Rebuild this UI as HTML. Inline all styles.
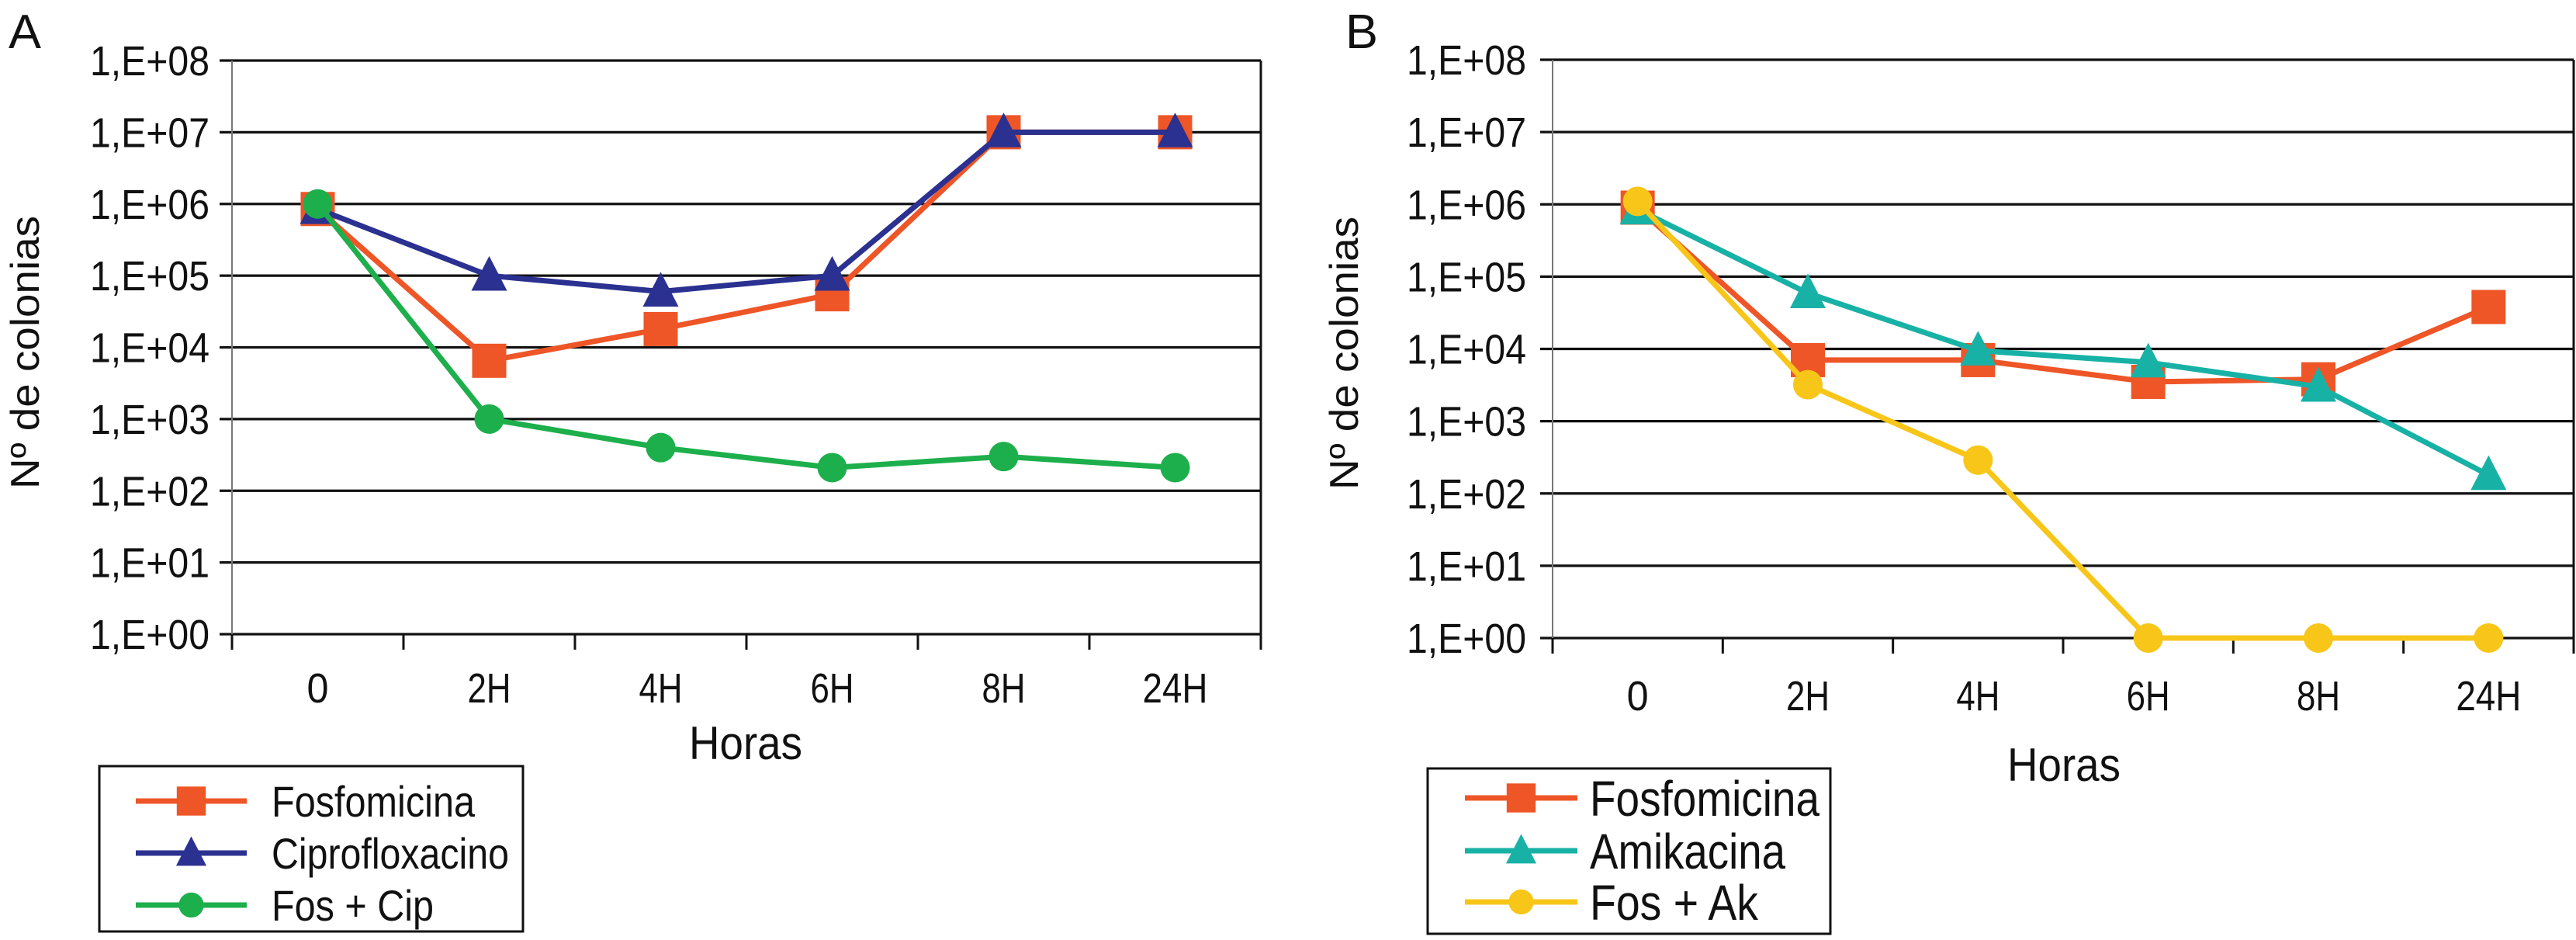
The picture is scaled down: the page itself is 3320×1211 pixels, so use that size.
<!DOCTYPE html>
<html><head><meta charset="utf-8"><style>
html,body{margin:0;padding:0;background:#fff;width:3320px;height:1211px;overflow:hidden}
svg{display:block}
text{font-family:"Liberation Sans",sans-serif;fill:#111}
</style></head><body>
<svg id="chart" width="3320" height="1211" viewBox="0 0 3320 1211" xmlns="http://www.w3.org/2000/svg">
<g id="panelA"></g>
<g id="panelB"></g>
</svg>
<script>
const categories = ["0","2H","4H","6H","8H","24H"];
const yTickLabels = ["1,E+00","1,E+01","1,E+02","1,E+03","1,E+04","1,E+05","1,E+06","1,E+07","1,E+08"];
const seriesNamesA = ["Fosfomicina","Ciprofloxacino","Fos + Cip"];
const fosA = [8.5e5, 6.5e3, 1.8e4, 5.5e4, 1e7, 1e7];
const cipA = [8.5e5, 1e5, 6e4, 1e5, 1e7, 1e7];
const fosCipA = [1e6, 1e3, 4e2, 2.1e2, 3e2, 2.1e2];
const seriesNamesB = ["Fosfomicina","Amikacina","Fos + Ak"];
const fosB = [9e5, 7e3, 7e3, 3.5e3, 3.8e3, 3.8e4];
const amiB = [8.5e5, 5.9e4, 9.5e3, 6.5e3, 3e3, 1.8e2];
const fosAkB = [1.1e6, 3.2e3, 2.9e2, 1, 1, 1];

const NS="http://www.w3.org/2000/svg";
function mk(parent, tag, attrs){const e=document.createElementNS(NS,tag);for(const k in attrs)e.setAttribute(k,attrs[k]);parent.appendChild(e);return e;}

const colors={orange:"#EE5527",navy:"#2B3190",green:"#1DAF4B",teal:"#18B1A6",yellow:"#F7C618"};

function drawPanel(g, cfg){
  const {left,right,top,bottom}=cfg;
  const yScale=v=>bottom-(Math.log10(v))*(bottom-top)/8;
  const band=(right-left)/categories.length;
  const xScale=i=>left+band*(i+0.5);
  const L=mk(g,"text",{x:cfg.letterX,y:62,"font-size":62,textLength:cfg.letterW,lengthAdjust:"spacingAndGlyphs"});
  L.textContent=cfg.letter;
  
  
  yTickLabels.forEach((lab,i)=>{
    const y=yScale(Math.pow(10,i));
    const gl=mk(g,"line",{x1:left-16,x2:right,y1:y,y2:y,stroke:"#111","stroke-width":3.2});
    
    
    const t=mk(g,"text",{x:cfg.yLabRight,y:y+19,"font-size":54,"text-anchor":"end",textLength:154,lengthAdjust:"spacingAndGlyphs"});
    t.textContent=lab;
    
    
  });
  const ya=mk(g,"line",{x1:left,x2:left,y1:top,y2:bottom,stroke:"#777","stroke-width":2});
  
  
  const rb=mk(g,"line",{x1:right,x2:right,y1:top,y2:bottom,stroke:"#111","stroke-width":3});
  
  
  for(let i=0;i<=categories.length;i++){
    const x=left+band*i;
    const tk=mk(g,"line",{x1:x,x2:x,y1:bottom,y2:bottom+20,stroke:"#111","stroke-width":3});
    
    
  }
  categories.forEach((c,i)=>{
    const t=mk(g,"text",{x:xScale(i),y:cfg.xLabY,"font-size":54,"text-anchor":"middle",textLength:c.length*28,lengthAdjust:"spacingAndGlyphs"});
    t.textContent=c;
    
    
  });
  const xt=mk(g,"text",{x:cfg.horasX,y:cfg.horasY,"font-size":60,"text-anchor":"middle",textLength:146,lengthAdjust:"spacingAndGlyphs"});
  xt.textContent="Horas";
  
  
  const yt=mk(g,"text",{x:0,y:0,"font-size":52,"text-anchor":"middle",transform:`translate(${cfg.yTitleX},${cfg.yTitleY}) rotate(-90)`,textLength:352,lengthAdjust:"spacingAndGlyphs"});
  yt.textContent="Nº de colonias";
  
  

  function marker(parent,shape,x,y,col,s){
    let m;
    if(shape==="square") m=mk(parent,"rect",{x:x-s/2,y:y-s/2,width:s,height:s,fill:col});
    else if(shape==="tri") m=mk(parent,"polygon",{points:`${x},${y-s*0.55} ${x-s/2},${y+s*0.42} ${x+s/2},${y+s*0.42}`,fill:col});
    else m=mk(parent,"circle",{cx:x,cy:y,r:s/2,fill:col});
    return m;
  }
  cfg.series.forEach((s,si)=>{
    const sg=mk(g,"g",{});
    
    
    const pts=s.values.map((v,i)=>xScale(i)+","+yScale(v)).join(" ");
    const pl=mk(sg,"polyline",{points:pts,fill:"none",stroke:s.color,"stroke-width":7,"stroke-linejoin":"round"});
    
    
    s.values.forEach((v,i)=>{
      const m=marker(sg,s.shape,xScale(i),yScale(v),s.color,s.size);
      
      
    });
  });
  const lg=mk(g,"g",{});
  
  
  const lb=mk(lg,"rect",{x:cfg.leg.x,y:cfg.leg.y,width:cfg.leg.w,height:cfg.leg.h,fill:"#fff",stroke:"#111","stroke-width":3});
  
  
  cfg.series.forEach((s,i)=>{
    const y=cfg.leg.rows[i];
    const eg=mk(lg,"g",{});
    
    
    mk(eg,"line",{x1:cfg.leg.l1,x2:cfg.leg.l2,y1:y,y2:y,stroke:s.color,"stroke-width":7});
    marker(eg,s.shape,(cfg.leg.l1+cfg.leg.l2)/2,y,s.color,s.size*0.85);
    const t=mk(eg,"text",{x:cfg.leg.tx,y:y+cfg.leg.fs*0.36,"font-size":cfg.leg.fs,textLength:cfg.leg.widths[i],lengthAdjust:"spacingAndGlyphs"});
    t.textContent=s.name;
  });
}

drawPanel(document.getElementById("panelA"),{
  letter:"A",letterX:11,letterW:42,left:299,right:1625,top:78,bottom:817,
  yLabRight:270,xLabY:905,horasX:961,horasY:978,yTitleX:50,yTitleY:454,
  series:[
    {key:"fosfomicina",name:seriesNamesA[0],values:fosA,color:colors.orange,shape:"square",size:44},
    {key:"ciprofloxacino",name:seriesNamesA[1],values:cipA,color:colors.navy,shape:"tri",size:46},
    {key:"fos-cip",name:seriesNamesA[2],values:fosCipA,color:colors.green,shape:"circle",size:38}
  ],
  leg:{x:128,y:987,w:546,h:213,rows:[1032,1099,1166],l1:175,l2:318,tx:350,fs:56,widths:[262,306,209]}
});
drawPanel(document.getElementById("panelB"),{
  letter:"B",letterX:1734,letterW:42,left:2001,right:3317,top:77,bottom:822,
  yLabRight:1967,xLabY:915,horasX:2660,horasY:1006,yTitleX:1750,yTitleY:455,
  series:[
    {key:"fosfomicina",name:seriesNamesB[0],values:fosB,color:colors.orange,shape:"square",size:44},
    {key:"amikacina",name:seriesNamesB[1],values:amiB,color:colors.teal,shape:"tri",size:46},
    {key:"fos-ak",name:seriesNamesB[2],values:fosAkB,color:colors.yellow,shape:"circle",size:38}
  ],
  leg:{x:1840,y:990,w:519,h:213,rows:[1028,1096,1162],l1:1888,l2:2033,tx:2049,fs:64,widths:[296,252,217]}
});
</script>
</body></html>
